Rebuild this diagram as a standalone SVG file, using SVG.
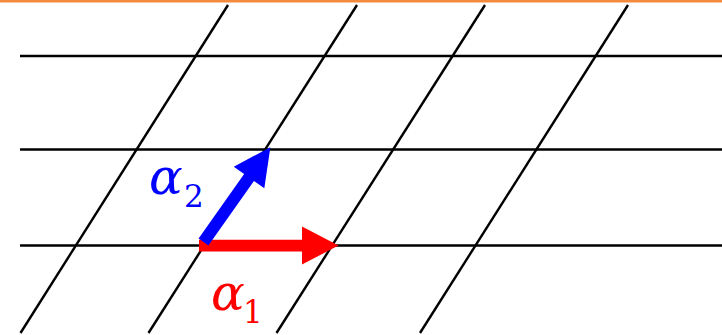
<svg xmlns="http://www.w3.org/2000/svg" width="722" height="335" viewBox="0 0 722 335">
<style>
.grid line{stroke:#000;stroke-width:2.4;stroke-linecap:butt}
.lbl{font-family:"DejaVu Serif","Liberation Serif",serif;font-style:italic}
.sub{font-family:"DejaVu Serif","Liberation Serif",serif;font-style:normal}
</style>
<rect x="0" y="0" width="722" height="335" fill="#fff"/>
<line x1="0" y1="1.2" x2="722" y2="1.2" stroke="#F58A3F" stroke-width="2.6"/>
<g id="grid" class="grid">
<line x1="20" y1="56" x2="722" y2="56"/>
<line x1="20" y1="149.5" x2="722" y2="149.5"/>
<line x1="20" y1="245.5" x2="722" y2="245.5"/>
<line x1="228" y1="5" x2="20.5" y2="333"/>
<line x1="357" y1="5" x2="148.5" y2="333"/>
<line x1="485" y1="5" x2="276.5" y2="333"/>
<line x1="628" y1="5" x2="420" y2="333"/>
</g>
<g id="connectors">
<polygon id="alpha1-arrow" fill="#FF0000" points="199,239.7 302,239.7 302,226.5 338.5,245.5 302,264.5 302,251.5 199,251.5"/>
<polygon id="alpha2-arrow" fill="#0000FF" transform="translate(203.5,242) rotate(-54.8)" points="0,-6 79,-6 79,-18.7 116,0 79,18.7 79,6 0,6"/>
</g>
<g id="label-alpha2" fill="#0000FF">
<text class="lbl" x="149" y="194" font-size="50">α</text>
<text class="sub" x="184" y="207" font-size="31">2</text>
</g>
<g id="label-alpha1" fill="#FF0000">
<text class="lbl" x="211" y="310" font-size="50">α</text>
<text class="sub" x="243" y="323" font-size="31">1</text>
</g>
</svg>
